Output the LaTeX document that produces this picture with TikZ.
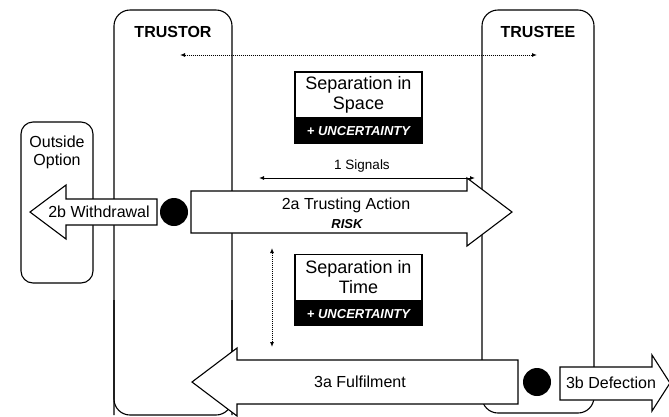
\documentclass[tikz,border=0pt]{standalone}
\usepackage{fontspec}
\setmainfont{Liberation Sans}
\usetikzlibrary{arrows.meta}
\begin{document}
\begin{tikzpicture}[x=1pt,y=-1pt,
  party/.style={draw, line width=1.1pt, rounded corners=16pt},
  title/.style={font=\fontsize{16}{18}\selectfont\bfseries, inner sep=0pt},
  lbl/.style={font=\fontsize{16}{18}\selectfont, inner sep=0pt, align=center},
  bigarrow/.style={draw, fill=white, line width=1.1pt, line join=miter},
  sepbox/.style={draw, line width=1.1pt, fill=white, minimum width=127pt, minimum height=46pt, inner sep=0pt, align=center, font=\fontsize{18}{20}\selectfont},
  uncbox/.style={draw, line width=1.1pt, fill=black, text=white, minimum width=127pt, minimum height=24pt, inner sep=0pt, font=\fontsize{13}{15}\selectfont\bfseries\itshape, anchor=north},
  dotarrow/.style={densely dotted, line width=1pt, {Latex[length=5pt,width=4pt]}-{Latex[length=5pt,width=4pt]}},
  sigarrow/.style={line width=1pt, {Latex[length=5pt,width=4pt]}-{Latex[length=5pt,width=4pt]}},
  choice/.style={circle, fill=black, minimum size=28pt, inner sep=0pt}
]
\useasboundingbox (0,0) rectangle (669,416);

% party boxes
\draw[party] (114,415) -- (114,10) -- (232,10) -- (232,415);
\draw[party] (482,413) -- (482,10) -- (594,10) -- (594,413) -- cycle;
\draw[party, rounded corners=12pt] (21,122) rectangle (93,283);
\node[title] (trustor) at (173,32) {TRUSTOR};
\node[title] (trustee) at (538,32) {TRUSTEE};
\node[lbl] (outside) at (57,152) {Outside\\Option};

% trustor bottom edge
\draw[line width=1.1pt, rounded corners=16pt] (114,300) -- (114,415) -- (232,415) -- (232,300);

% separation in space
\coordinate (spL) at (180,55);
\coordinate (spR) at (537,55);
\draw[dotarrow] (spL) -- (spR);
\node[sepbox] (space) at (358.5,95) {Separation in\\Space};
\node[uncbox] (spaceunc) at (space.south) {+ UNCERTAINTY};

% signals
\coordinate (sigL) at (259,178);
\coordinate (sigR) at (475,178);
\draw[sigarrow] (sigL) -- (sigR);
\node[font=\fontsize{13.5}{15}\selectfont, inner sep=0pt] (signals) at (362,166) {1 Signals};

% 2a trusting action
\draw[bigarrow] (191,191) -- (467,191) -- (467,178) -- (512,212) -- (467,246) -- (467,233) -- (191,233) -- cycle;
\node[lbl] (trusting) at (346,205) {2a Trusting Action};
\node[font=\fontsize{13}{15}\selectfont\bfseries\itshape, inner sep=0pt] (risk) at (347,224) {RISK};

% 2b withdrawal
\draw[bigarrow] (157,199) -- (66,199) -- (66,185) -- (30,212) -- (66,239) -- (66,225) -- (157,225) -- cycle;
\node[lbl] (withdrawal) at (99,212) {2b Withdrawal};
\node[choice] (c1) at (174,212) {};

% separation in time
\coordinate (tmT) at (272,248);
\coordinate (tmB) at (272,347);
\draw[dotarrow] (tmT) -- (tmB);
\node[sepbox] (time) at (358.5,277.5) {Separation in\\Time};
\node[uncbox] (timeunc) at (time.south) {+ UNCERTAINTY};

% 3a fulfilment
\draw[bigarrow] (518,360) -- (237,360) -- (237,348) -- (192,382) -- (237,416) -- (237,404) -- (518,404) -- cycle;
\node[lbl] (fulfil) at (360,382) {3a Fulfilment};
\node[choice] (c2) at (537,382) {};

% 3b defection
\draw[bigarrow] (560,367) -- (652,367) -- (652,355) -- (670,383) -- (652,411) -- (652,400) -- (560,400) -- cycle;
\node[lbl] (defection) at (611,383) {3b Defection};
\end{tikzpicture}
\end{document}
